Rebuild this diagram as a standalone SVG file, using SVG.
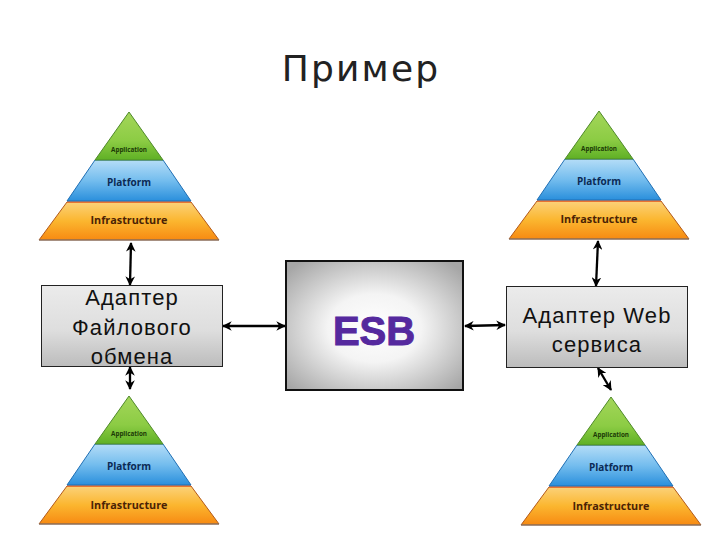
<svg xmlns="http://www.w3.org/2000/svg" xmlns:xlink="http://www.w3.org/1999/xlink" width="720" height="540" viewBox="0 0 720 540">
<style>
.adapter{font-family:"Liberation Sans",Arial,sans-serif;font-size:22px;letter-spacing:1.1px;fill:#111;text-anchor:middle}
.pt{font-family:"Open Sans","Liberation Sans",sans-serif;font-weight:700;text-anchor:middle}
.a{font-size:6.3px;fill:#1c3a06}
.p{font-size:10px;fill:#0b2a55}
.i{font-size:10.8px;fill:#4a2205}
.box{stroke:#222;stroke-width:1}
.conn{fill:none;stroke:#000;stroke-width:2.3;marker-start:url(#arrowS);marker-end:url(#arrow)}
</style>
<defs>
<marker id="arrow" viewBox="0 0 10 10" refX="9" refY="5" markerWidth="4.2" markerHeight="4.2" orient="auto"><path d="M0 0L10 5L0 10L3 5Z" fill="#000"/></marker>
<marker id="arrowS" viewBox="0 0 10 10" refX="1" refY="5" markerWidth="4.2" markerHeight="4.2" orient="auto"><path d="M10 0L0 5L10 10L7 5Z" fill="#000"/></marker>
<linearGradient id="gGreen" x1="0" y1="0" x2="0" y2="1"><stop offset="0" stop-color="#a4d65a"/><stop offset="0.6" stop-color="#8ccc44"/><stop offset="1" stop-color="#5fb025"/></linearGradient>
<linearGradient id="gBlue" x1="0" y1="0" x2="0" y2="1"><stop offset="0" stop-color="#b5ddf7"/><stop offset="0.5" stop-color="#74bdee"/><stop offset="1" stop-color="#2a8fdc"/></linearGradient>
<linearGradient id="gOrange" x1="0" y1="0" x2="0" y2="1"><stop offset="0" stop-color="#fbd27a"/><stop offset="0.5" stop-color="#fbb62f"/><stop offset="1" stop-color="#f78a12"/></linearGradient>
<linearGradient id="gBox" x1="0" y1="0" x2="0" y2="1"><stop offset="0" stop-color="#ebebeb"/><stop offset="0.55" stop-color="#dedede"/><stop offset="1" stop-color="#bcbcbc"/></linearGradient>
<radialGradient id="gEsb" cx="0.5" cy="0.52" r="0.66"><stop offset="0" stop-color="#fff"/><stop offset="0.4" stop-color="#f4f4f4"/><stop offset="1" stop-color="#a6a6a6"/></radialGradient>
<g id="pyr">
<path d="M-62 90L62 90L90 128L-90 128Z" fill="url(#gOrange)" stroke="#b3591a" stroke-width="1"/>
<path d="M-62 90L62 90" stroke="#ee6a2a" stroke-width="1.5"/>
<path d="M-34 48L34 48L62 89L-62 89Z" fill="url(#gBlue)" stroke="#1f6fb5" stroke-width="1"/>
<path d="M0 0L34 48L-34 48Z" fill="url(#gGreen)" stroke="#4f8a2a" stroke-width="1"/>
<path d="M-90 128L90 128" stroke="#777" stroke-width="1.2"/>
</g>
</defs>
<rect width="720" height="540" fill="#fff"/>
<text id="title" x="361" y="81" font-family="'DejaVu Sans',sans-serif" font-size="36" letter-spacing="2.2" text-anchor="middle" fill="#222">Пример</text>
<g id="connectors">
<path class="conn" d="M131 243L130 285"/>
<path class="conn" d="M130 367L130 389"/>
<path class="conn" d="M223 326L285 326"/>
<path class="conn" d="M465 326L505 325"/>
<path class="conn" d="M598 241L596 286"/>
<path class="conn" d="M598 368L611 390"/>
</g>
<g id="pyramid-top-left"><use href="#pyr" xlink:href="#pyr" x="129" y="112"/>
<text class="pt a" x="129" y="152">Application</text><text class="pt p" x="129" y="186">Platform</text><text class="pt i" x="129" y="224">Infrastructure</text></g>
<g id="pyramid-top-right"><use href="#pyr" xlink:href="#pyr" x="599" y="111"/>
<text class="pt a" x="599" y="151">Application</text><text class="pt p" x="599" y="185">Platform</text><text class="pt i" x="599" y="223">Infrastructure</text></g>
<g id="pyramid-bottom-left"><use href="#pyr" xlink:href="#pyr" x="129" y="396"/>
<text class="pt a" x="129" y="436">Application</text><text class="pt p" x="129" y="470">Platform</text><text class="pt i" x="129" y="509">Infrastructure</text></g>
<g id="pyramid-bottom-right"><use href="#pyr" xlink:href="#pyr" x="611" y="397"/>
<text class="pt a" x="611" y="437">Application</text><text class="pt p" x="611" y="471">Platform</text><text class="pt i" x="611" y="510">Infrastructure</text></g>
<g id="adapter-file"><rect class="box" x="41.500" y="285.500" width="181" height="81" fill="url(#gBox)"/>
<text class="adapter" x="132" y="305">Адаптер</text><text class="adapter" x="132" y="335">Файлового</text><text class="adapter" x="132" y="364">обмена</text></g>
<g id="esb"><rect x="286" y="261" width="177" height="129" fill="url(#gEsb)" stroke="#111" stroke-width="2"/>
<text x="374" y="345" font-family="'Liberation Sans',Arial,sans-serif" font-weight="700" font-size="40" text-anchor="middle" fill="#55299e" stroke="#55299e" stroke-width="1">ESB</text></g>
<g id="adapter-web"><rect class="box" x="506.500" y="286.500" width="181" height="81" fill="url(#gBox)"/>
<text class="adapter" x="597" y="323">Адаптер Web</text><text class="adapter" x="597" y="352">сервиса</text></g>
</svg>
